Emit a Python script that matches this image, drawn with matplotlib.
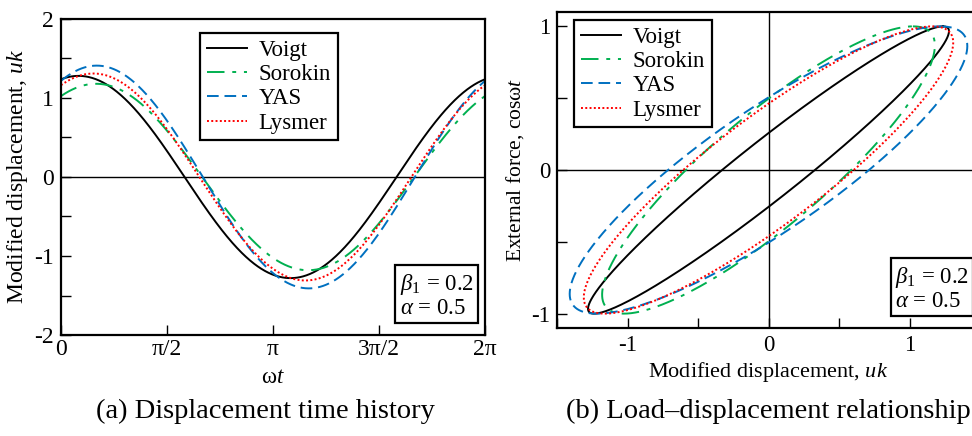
import numpy as np
import matplotlib
matplotlib.use("Agg")
import matplotlib.pyplot as plt
from matplotlib.ticker import MultipleLocator, FixedLocator

# serif look with matching math fonts
plt.rcParams['font.family'] = ['Liberation Serif', 'DejaVu Serif']
plt.rcParams['mathtext.fontset'] = 'custom'
plt.rcParams['mathtext.rm'] = 'Liberation Serif'
plt.rcParams['mathtext.it'] = 'Liberation Serif:italic'
plt.rcParams['mathtext.bf'] = 'Liberation Serif:bold'
plt.rcParams['axes.unicode_minus'] = False

# steady-state response of each model: amplitude of uk and phase lag (rad)
models = ['Voigt', 'Sorokin', 'YAS', 'Lysmer']
amplitudes = [1.28, 1.18, 1.41, 1.31]
phase_lags = [0.26, 0.52, 0.53, 0.48]

colors = ['black', '#00b050', '#0070c0', '#ff0000']
styles = [dict(ls='-'),
          dict(ls=(0, (9, 4, 2, 4))),
          dict(ls=(0, (6, 3))),
          dict(ls=(0, (1, 1.2)))]

x_ticks = [0, np.pi / 2, np.pi, 3 * np.pi / 2, 2 * np.pi]
x_ticklabels = ['0', 'π/2', 'π', '3π/2', '2π']
param_text = '$\\beta_1$ = 0.2\n$\\alpha$ = 0.5'

W, H = 972, 436
fig = plt.figure(figsize=(W / 100, H / 100), dpi=100)


def px_axes(left, top, right, bottom):
    return fig.add_axes([left / W, 1 - bottom / H, (right - left) / W, (bottom - top) / H])


def style_axes(ax, size):
    for s in ax.spines.values():
        s.set_linewidth(1.6)
    ax.tick_params(which='both', direction='in', top=False, right=False,
                   labelsize=size, width=1.0)
    ax.tick_params(which='major', length=7, pad=5)
    ax.tick_params(which='minor', length=7)


def add_legend(ax, anchor):
    leg = ax.legend(loc='upper left', bbox_to_anchor=anchor, fontsize=16.5,
                    frameon=True, fancybox=False, edgecolor='black', framealpha=1,
                    handlelength=1.75, handletextpad=0.5, borderpad=0.3,
                    labelspacing=0.14, borderaxespad=0)
    leg.get_frame().set_linewidth(1.6)


def add_params(ax, x, y):
    ax.text(x, y, param_text, transform=ax.transAxes, ha='right', va='bottom',
            fontsize=16.5, linespacing=1.1, multialignment='left',
            bbox=dict(boxstyle='square,pad=0.18', fc='white', ec='black', lw=1.6))


wt = np.linspace(0, 2 * np.pi, 721)

# (a) displacement time history
ax1 = px_axes(61, 19, 485, 335)
ax1.axhline(0, color='black', lw=1.0)
for name, a, p, c, st in zip(models, amplitudes, phase_lags, colors, styles):
    ax1.plot(wt, a * np.cos(wt - p), color=c, lw=1.4, label=name, **st)
ax1.set_xlim(0, 2 * np.pi)
ax1.set_ylim(-2, 2)
ax1.xaxis.set_major_locator(FixedLocator(x_ticks))
ax1.set_xticklabels(x_ticklabels)
ax1.yaxis.set_major_locator(MultipleLocator(1))
ax1.yaxis.set_minor_locator(MultipleLocator(0.5))
style_axes(ax1, 17)
ax1.tick_params(axis='x', pad=3)
ax1.set_xlabel('ω$t$', fontsize=16.5, labelpad=5)
ax1.set_ylabel('Modified displacement, $uk$', fontsize=17, labelpad=3)
add_legend(ax1, (0.328, 0.956))
add_params(ax1, 0.973, 0.05)

# (b) load-displacement loops
ax2 = px_axes(557, 12, 980, 328)
ax2.axhline(0, color='black', lw=1.0)
ax2.axvline(0, color='black', lw=1.0)
force = np.cos(wt)
for name, a, p, c, st in zip(models, amplitudes, phase_lags, colors, styles):
    ax2.plot(a * np.cos(wt - p), force, color=c, lw=1.4, label=name, **st)
ax2.set_xlim(-1.5, 1.5)
ax2.set_ylim(-1.1, 1.1)
ax2.xaxis.set_major_locator(MultipleLocator(1))
ax2.xaxis.set_minor_locator(MultipleLocator(0.5))
ax2.yaxis.set_major_locator(MultipleLocator(1))
ax2.yaxis.set_minor_locator(MultipleLocator(0.5))
style_axes(ax2, 16.5)
ax2.set_xlabel('Modified displacement, $uk$', fontsize=16, labelpad=3)
ax2.set_ylabel('External force, cosω$t$', fontsize=15.5, labelpad=4)
add_legend(ax2, (0.040, 0.975))
add_params(ax2, 0.974, 0.05)

fig.text(265 / W, 1 - 411 / H, '(a) Displacement time history', ha='center', va='center', fontsize=20.5)
fig.text(768 / W, 1 - 411 / H, '(b) Load–displacement relationship', ha='center', va='center', fontsize=20.5)

fig.savefig('out.png', dpi=100)
